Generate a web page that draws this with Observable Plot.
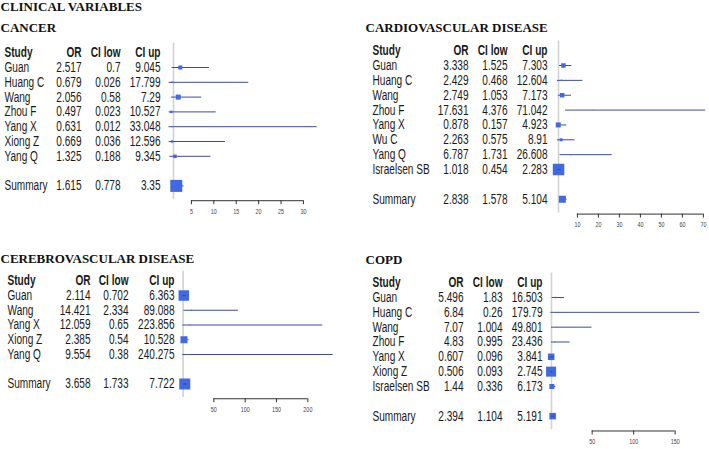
<!DOCTYPE html>
<html><head><meta charset="utf-8">
<script src="https://cdn.jsdelivr.net/npm/d3@7"></script>
<script src="https://cdn.jsdelivr.net/npm/@observablehq/plot@0.6"></script>
<style>
body{margin:0;background:#fff;}
#wrap{position:relative;width:709px;height:449px;overflow:hidden;background:#fff;}
.panel{position:absolute;}
</style></head><body><div id="wrap"></div>
<script>
// ---------- DATA ----------
const pageTitle = "CLINICAL VARIABLES";
const headers = ["Study", "OR", "CI low", "CI up"];
const summaryLabel = "Summary";

const cancerStudies = ["Guan", "Huang C", "Wang", "Zhou F", "Yang X", "Xiong Z", "Yang Q"];
const cancerOR  = [2.517, 0.679, 2.056, 0.497, 0.631, 0.669, 1.325];
const cancerLow = [0.7, 0.026, 0.58, 0.023, 0.012, 0.036, 0.188];
const cancerUp  = [9.045, 17.799, 7.29, 10.527, 33.048, 12.596, 9.345];
const cancerWeight = [4, 1.5, 5, 2.5, 1, 2.5, 3.5];
const cancerSummary = [1.615, 0.778, 3.35];
const cancerSummaryWeight = 12;
const cancerTicks = [5, 10, 15, 20, 25, 30];

const cardioStudies = ["Guan", "Huang C", "Wang", "Zhou F", "Yang X", "Wu C", "Yang Q", "Israelsen SB"];
const cardioOR  = [3.338, 2.429, 2.749, 17.631, 0.878, 2.263, 6.787, 1.018];
const cardioLow = [1.525, 0.468, 1.053, 4.376, 0.157, 0.575, 1.731, 0.454];
const cardioUp  = [7.303, 12.604, 7.173, 71.042, 4.923, 8.91, 26.608, 2.283];
const cardioWeight = [4.5, 1.5, 4.5, 0.8, 5, 3, 1, 11.5];
const cardioSummary = [2.838, 1.578, 5.104];
const cardioSummaryWeight = 7;
const cardioTicks = [10, 20, 30, 40, 50, 60, 70];

const cerebroStudies = ["Guan", "Wang", "Yang X", "Xiong Z", "Yang Q"];
const cerebroOR  = [2.114, 14.421, 12.059, 2.385, 9.554];
const cerebroLow = [0.702, 2.334, 0.65, 0.54, 0.38];
const cerebroUp  = [6.363, 89.088, 223.856, 10.528, 240.275];
const cerebroWeight = [10.5, 1, 1, 7, 1];
const cerebroSummary = [3.658, 1.733, 7.722];
const cerebroSummaryWeight = 11;
const cerebroTicks = [50, 100, 150, 200];

const copdStudies = ["Guan", "Huang C", "Wang", "Zhou F", "Yang X", "Xiong Z", "Israelsen SB"];
const copdOR  = [5.496, 6.84, 7.07, 4.83, 0.607, 0.506, 1.44];
const copdLow = [1.83, 0.26, 1.004, 0.995, 0.096, 0.093, 0.336];
const copdUp  = [16.503, 179.79, 49.801, 23.436, 3.841, 2.745, 6.173];
const copdWeight = [1.5, 0.8, 0.8, 1, 6.5, 10, 5];
const copdSummary = [2.394, 1.104, 5.191];
const copdSummaryWeight = 6.5;
const copdTicks = [50, 100, 150];

// ---------- LAYOUT ----------
const SANS = '"Liberation Sans", Arial, sans-serif';
const SERIF = '"Liberation Serif", "Times New Roman", serif';
const NARROW = 0.72; // horizontal condensing of the sans text (Helvetica Narrow look)
const FS = 14;
const LINE = "#3f4aa0";
const BOX = "#4169e1";
const TEXT = "#1a1a1a";

const panels = [
  {title: "CANCER", studies: cancerStudies, or: cancerOR, low: cancerLow, up: cancerUp, w: cancerWeight,
   sum: cancerSummary, sumW: cancerSummaryWeight, ticks: cancerTicks,
   left: 0, top: 0, width: 354, height: 225, cols: [4, 81, 120, 160], x1px: 173, ppu: 4.48,
   y0: 67, dy: 14.8, titleX: 0, titleY: 31, extraTitle: true},
  {title: "CARDIOVASCULAR DISEASE", studies: cardioStudies, or: cardioOR, low: cardioLow, up: cardioUp, w: cardioWeight,
   sum: cardioSummary, sumW: cardioSummaryWeight, ticks: cardioTicks,
   left: 354, top: 0, width: 355, height: 225, cols: [18, 114, 153, 193], x1px: 204, ppu: 2.1,
   y0: 65, dy: 14.86, titleX: 11, titleY: 31},
  {title: "CEREBROVASCULAR DISEASE", studies: cerebroStudies, or: cerebroOR, low: cerebroLow, up: cerebroUp, w: cerebroWeight,
   sum: cerebroSummary, sumW: cerebroSummaryWeight, ticks: cerebroTicks,
   left: 0, top: 225, width: 354, height: 224, cols: [7, 90, 128, 174], x1px: 182.6, ppu: 0.627,
   y0: 70, dy: 14.75, titleX: 0, titleY: 37},
  {title: "COPD", studies: copdStudies, or: copdOR, low: copdLow, up: copdUp, w: copdWeight,
   sum: copdSummary, sumW: copdSummaryWeight, ticks: copdTicks,
   left: 354, top: 225, width: 355, height: 224, cols: [18, 109, 148, 188], x1px: 197, ppu: 0.83,
   y0: 72, dy: 14.83, titleX: 11, titleY: 38}
];

const wrap = document.getElementById("wrap");

for (const p of panels) {
  const rows = p.studies.map((s, i) => ({study: s, or: p.or[i], low: p.low[i], up: p.up[i], w: p.w[i], i}));
  const n = rows.length;
  const all = [...rows, {study: summaryLabel, or: p.sum[0], low: p.sum[1], up: p.sum[2], w: p.sumW, i: n + 1}];
  const axisIdx = n + 2;
  const xMax = p.ticks[p.ticks.length - 1] + 10;
  const axisY = p.y0 + axisIdx * p.dy;
  // CI drawn over the box when the box is wider than the interval
  const inner = all.filter(d => d.low >= d.or - d.w / 2 / p.ppu && d.up <= d.or + d.w / 2 / p.ppu);
  const colText = (key, k, anchor) => Plot.text(all, {
    y: "i", text: d => typeof d[key] === "number" ? String(d[key]) : d[key],
    frameAnchor: "left", dx: p.cols[k], textAnchor: anchor,
    fontSize: FS, fontFamily: SANS, fill: TEXT
  });
  const marks = [
    Plot.ruleX([1], {y1: -1.65, y2: axisIdx - 0.08, stroke: "#d2d2d2", strokeWidth: 1.6}),
    Plot.ruleY(all, {y: "i", x1: "low", x2: "up", stroke: LINE, strokeWidth: 1}),
    Plot.dot(all, {x: "or", y: "i", r: d => d.w / Math.sqrt(Math.PI), symbol: "square", fill: BOX, stroke: null}),
    Plot.ruleY(inner, {y: "i", x1: "low", x2: "up", stroke: LINE, strokeWidth: 1.2}),
    Plot.ruleY([axisIdx], {x1: p.ticks[0], x2: p.ticks[p.ticks.length - 1], stroke: "#333", strokeWidth: 1}),
    Plot.axisX({ticks: p.ticks, anchor: "bottom", tickSize: 4, tickPadding: 4, label: null,
      fontSize: 7.5, fontFamily: SANS, stroke: "#333", fill: "#444"}),
    colText("study", 0, "start"),
    colText("or", 1, "end"),
    colText("low", 2, "end"),
    colText("up", 3, "end"),
    Plot.text([p.title], {frameAnchor: "top-left", textAnchor: "start", lineAnchor: "bottom",
      dx: p.titleX, dy: p.titleY, fontFamily: SERIF, fontWeight: "bold", fontSize: 13, fill: "#111"})
  ];
  headers.forEach((h, k) => {
    marks.push(Plot.text([h], {y: () => -1, text: d => d, frameAnchor: "left", dx: p.cols[k],
      textAnchor: k === 0 ? "start" : "end", fontSize: FS, fontFamily: SANS, fontWeight: "bold", fill: TEXT}));
  });
  if (p.extraTitle) {
    marks.push(Plot.text([pageTitle], {frameAnchor: "top-left", textAnchor: "start", lineAnchor: "bottom",
      dx: 0, dy: 10.5, fontFamily: SERIF, fontWeight: "bold", fontSize: 13, fill: "#111"}));
  }
  const chart = Plot.plot({
    width: p.width, height: p.height,
    marginTop: 0, marginLeft: 0, marginRight: 0, marginBottom: p.height - axisY,
    x: {type: "linear", domain: [1, xMax], range: [p.x1px, p.x1px + (xMax - 1) * p.ppu], axis: null},
    y: {type: "linear", domain: [0, 1], range: [p.y0, p.y0 + p.dy], axis: null},
    r: {type: "identity"},
    style: {background: "transparent", fontFamily: SANS, color: "#333", overflow: "visible"},
    marks
  });
  const div = document.createElement("div");
  div.className = "panel";
  div.style.left = p.left + "px";
  div.style.top = p.top + "px";
  div.appendChild(chart);
  wrap.appendChild(div);
  // condense sans-serif texts (narrow Helvetica look)
  d3.select(chart).selectAll("text").each(function () {
    const g = this.closest("g");
    const fam = (this.getAttribute("font-family") || (g && g.getAttribute("font-family")) || "");
    if (fam.includes("Serif")) return;
    const w = this.getComputedTextLength();
    if (w > 0) {
      this.setAttribute("textLength", (w * NARROW).toFixed(2));
      this.setAttribute("lengthAdjust", "spacingAndGlyphs");
    }
  });
}
</script></body></html>
